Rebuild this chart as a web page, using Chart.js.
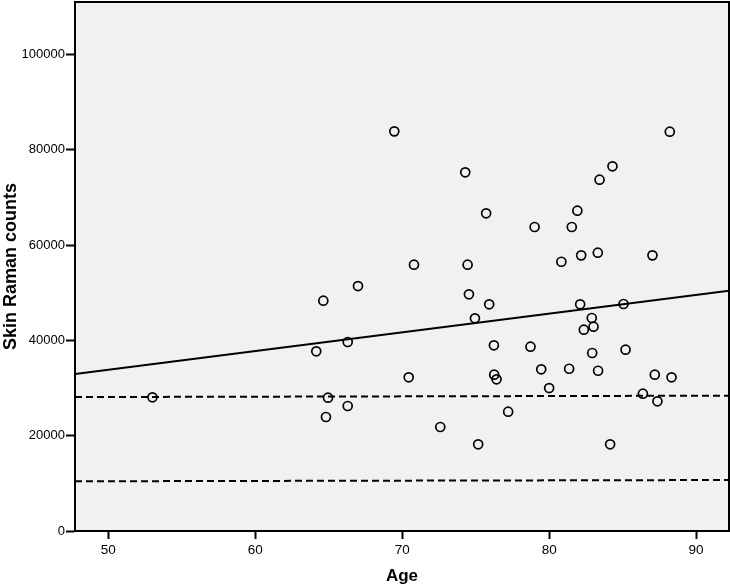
<!DOCTYPE html>
<html>
<head>
<meta charset="utf-8">
<script src="https://cdn.jsdelivr.net/npm/chart.js@4"></script>
<style>
  html, body { margin: 0; padding: 0; background: #ffffff; }
  #wrap { width: 730px; height: 587px; }
</style>
</head>
<body>
<div id="wrap"><canvas id="raman-chart" width="730" height="587"></canvas></div>
<script>
// Dados (idade x contagens Raman da pele)
const idades = [
    53.0, 64.63, 64.15, 66.29, 70.44, 64.95, 66.29, 64.81, 72.59, 75.17,
    74.95, 75.92, 76.24, 76.26, 76.42, 77.21, 82.11, 85.06, 82.90, 83.02,
    82.36, 78.73, 82.93, 85.20, 79.46, 81.36, 83.33, 87.19, 88.33, 80.0,
    86.38, 87.37, 84.15, 69.46, 74.29, 75.71, 70.80, 74.45, 66.99, 74.54,
    88.21, 84.31, 83.43, 81.92, 79.01, 81.54, 82.18, 83.31, 80.83, 87.03
];
const contagens = [
    28050, 48320, 37700, 39660, 32250, 27970, 26230, 23920, 21820, 18190,
    44630, 47570, 38960, 32800, 31830, 25030, 47570, 47630, 44690, 42870,
    42240, 38670, 37350, 38040, 33930, 34050, 33630, 32800, 32250, 30000,
    28810, 27210, 18190, 83860, 75260, 66660, 55880, 55880, 51400, 49660,
    83790, 76520, 73710, 67210, 63790, 63790, 57840, 58400, 56500, 57840
];

// Linha de regressão e linhas de referência (extremos do eixo x)
const extremosX = [47.73, 92.24];
const regressao = [32940, 50420];
const refSuperior = [28100, 28400];
const refInferior = [10430, 10700];

// Marcas dos eixos
const ticksX = [50, 60, 70, 80, 90];
const ticksY = [0, 20000, 40000, 60000, 80000, 100000];
const limitesY = [0, 111000];

function pontos(xs, ys) {
    return xs.map((x, i) => ({ x: x, y: ys[i] }));
}

// Fundo cinza e moldura da área do gráfico
const molduraPlugin = {
    id: 'moldura',
    beforeDraw(chart) {
        const a = chart.chartArea;
        const ctx = chart.ctx;
        ctx.save();
        ctx.fillStyle = '#f1f1f1';
        ctx.fillRect(a.left, a.top, a.right - a.left, a.bottom - a.top);
        ctx.restore();
    },
    afterDraw(chart) {
        const a = chart.chartArea;
        const ctx = chart.ctx;
        ctx.save();
        ctx.strokeStyle = '#000';
        ctx.lineWidth = 2;
        ctx.strokeRect(a.left, a.top, a.right - a.left, a.bottom - a.top);
        ctx.restore();
    }
};

// Remove o espaço extra que o Chart.js reserva para os rótulos das pontas
function semPadding(scale) {
    scale.paddingTop = 0;
    scale.paddingBottom = 0;
    scale.paddingLeft = 0;
    scale.paddingRight = 0;
}

const ctx = document.getElementById('raman-chart');

new Chart(ctx, {
    type: 'scatter',
    data: {
        datasets: [
            {
                label: 'Pontos',
                data: pontos(idades, contagens),
                showLine: false,
                pointRadius: 4.5,
                pointBorderWidth: 1.7,
                pointBorderColor: '#000',
                pointBackgroundColor: 'rgba(0,0,0,0)',
                order: 0
            },
            {
                label: 'Regressão',
                data: pontos(extremosX, regressao),
                showLine: true,
                borderColor: '#000',
                borderWidth: 2,
                pointRadius: 0,
                order: 1
            },
            {
                label: 'Ref superior',
                data: pontos(extremosX, refSuperior),
                showLine: true,
                borderColor: '#000',
                borderWidth: 2,
                borderDash: [7, 4],
                pointRadius: 0,
                order: 1
            },
            {
                label: 'Ref inferior',
                data: pontos(extremosX, refInferior),
                showLine: true,
                borderColor: '#000',
                borderWidth: 2,
                borderDash: [7, 4],
                pointRadius: 0,
                order: 1
            }
        ]
    },
    options: {
        responsive: false,
        animation: false,
        layout: {
            autoPadding: false,
            padding: { top: 2, right: 1, left: 0, bottom: 0 }
        },
        plugins: {
            legend: { display: false },
            tooltip: { enabled: false }
        },
        scales: {
            x: {
                type: 'linear',
                min: extremosX[0],
                max: extremosX[1],
                afterBuildTicks: function(scale) {
                    scale.ticks = ticksX.map(v => ({ value: v }));
                },
                afterFit: function(scale) {
                    scale.height = 56;
                    semPadding(scale);
                },
                grid: {
                    drawOnChartArea: false,
                    drawTicks: true,
                    tickLength: 8,
                    tickWidth: 2,
                    tickColor: '#000'
                },
                border: { display: true, color: '#000', width: 2 },
                ticks: {
                    color: '#000',
                    padding: 3,
                    maxRotation: 0,
                    font: { family: 'Liberation Sans, Arial', size: 13.5 },
                    callback: function(value) {
                        return String(value);
                    }
                },
                title: {
                    display: true,
                    text: 'Age',
                    color: '#000',
                    padding: { top: 0, bottom: 0 },
                    font: { family: 'Liberation Sans, Arial', size: 17, weight: 'bold' }
                }
            },
            y: {
                type: 'linear',
                min: limitesY[0],
                max: limitesY[1],
                afterBuildTicks: function(scale) {
                    scale.ticks = ticksY.map(v => ({ value: v }));
                },
                afterFit: function(scale) {
                    scale.width = 75;
                    semPadding(scale);
                },
                grid: {
                    drawOnChartArea: false,
                    drawTicks: true,
                    tickLength: 9,
                    tickWidth: 2,
                    tickColor: '#000'
                },
                border: { display: true, color: '#000', width: 2 },
                ticks: {
                    color: '#000',
                    padding: 1,
                    font: { family: 'Liberation Sans, Arial', size: 13 },
                    callback: function(value) {
                        return String(value);
                    }
                },
                title: {
                    display: true,
                    text: 'Skin Raman counts',
                    color: '#000',
                    padding: { top: 0, bottom: 0 },
                    font: { family: 'Liberation Sans, Arial', size: 18, weight: 'bold' }
                }
            }
        }
    },
    plugins: [molduraPlugin]
});
</script>
</body>
</html>
